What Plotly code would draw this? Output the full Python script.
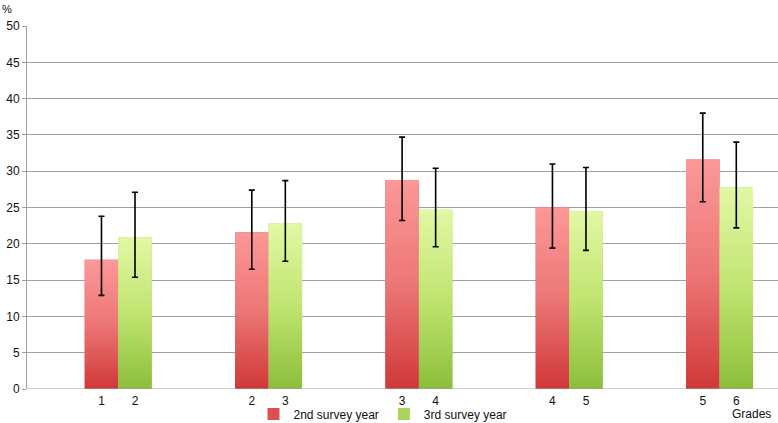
import plotly.graph_objects as go

grades = [1, 2, 3, 4, 5]
series_names = ["2nd survey year", "3rd survey year"]
red_vals = [17.8, 21.6, 28.8, 25.0, 31.6]
red_low = [12.9, 16.5, 23.2, 19.4, 25.8]
red_high = [23.8, 27.4, 34.7, 31.0, 38.0]
green_vals = [20.9, 22.8, 24.7, 24.5, 27.8]
green_low = [15.4, 17.6, 19.6, 19.1, 22.2]
green_high = [27.1, 28.7, 30.4, 30.5, 34.0]
red_ticks = ["1", "2", "3", "4", "5"]
green_ticks = ["2", "3", "4", "5", "6"]

W = 0.223
FONT = "Liberation Sans, Arial, sans-serif"
red_scale = [[0, "rgb(208,56,56)"], [0.5, "rgb(236,118,118)"], [1, "rgb(252,152,152)"]]
green_scale = [[0, "rgb(140,190,58)"], [0.5, "rgb(192,228,112)"], [1, "rgb(226,248,165)"]]

fig = go.Figure()
pos = list(range(len(grades)))

series = [
    (series_names[0], red_vals, red_low, red_high, -W, red_scale, "rgb(222,80,80)"),
    (series_names[1], green_vals, green_low, green_high, 0.0, green_scale, "rgb(170,212,90)"),
]

# base bar traces (data + legend)
for name, vals, lo, hi, off, scale, mid in series:
    fig.add_trace(go.Bar(
        x=pos, y=vals, name=name, offset=off, width=W,
        marker=dict(color=mid, line=dict(width=0)),
        showlegend=True,
    ))

# gradient overlay for each bar
for name, vals, lo, hi, off, scale, mid in series:
    for p, v in zip(pos, vals):
        x0 = p + off
        x1 = x0 + W
        fig.add_trace(go.Scatter(
            x=[x0, x1, x1, x0, x0], y=[0, 0, v, v, 0],
            mode="lines", fill="toself", line=dict(width=0),
            fillgradient=dict(type="vertical", colorscale=scale, start=0, stop=v),
            showlegend=False, hoverinfo="skip",
        ))

# error bars
for name, vals, lo, hi, off, scale, mid in series:
    fig.add_trace(go.Scatter(
        x=[p + off + W / 2 for p in pos], y=vals, mode="markers",
        marker=dict(size=1, opacity=0),
        error_y=dict(type="data", symmetric=False,
                     array=[h - v for h, v in zip(hi, vals)],
                     arrayminus=[v - l for l, v in zip(lo, vals)],
                     color="black", thickness=1.6, width=3),
        showlegend=False, hoverinfo="skip",
    ))

tickvals = []
ticktext = []
for p, a, b in zip(pos, red_ticks, green_ticks):
    tickvals += [p - W / 2, p + W / 2]
    ticktext += [a, b]

fig.update_layout(
    width=778, height=423,
    margin=dict(l=27, r=0, t=26, b=34, autoexpand=False),
    paper_bgcolor="white", plot_bgcolor="white",
    font=dict(family=FONT, size=12, color="#111"),
    barmode="overlay",
    xaxis=dict(range=[-0.607, 4.389], tickvals=tickvals, ticktext=ticktext,
               showgrid=False, zeroline=False, showline=False, automargin=False,
               ticks="outside", ticklen=1, tickcolor="rgba(0,0,0,0)",
               tickfont=dict(size=12, color="#111")),
    yaxis=dict(range=[0, 50], dtick=5, showgrid=True, gridcolor="#a0a0a0", gridwidth=1,
               zeroline=False, showline=True, linecolor="#a0a0a0", linewidth=1,
               ticks="outside", ticklen=4, tickcolor="#a0a0a0", automargin=False,
               tickfont=dict(size=12, color="#111")),
    legend=dict(orientation="h", x=0.474, xanchor="center", y=-0.069, yanchor="middle",
                font=dict(size=12, color="#111"), itemwidth=30, bgcolor="rgba(0,0,0,0)"),
    annotations=[
        dict(text="%", xref="paper", yref="paper", x=-0.036, y=1.048,
             xanchor="left", yanchor="middle", showarrow=False, font=dict(size=11)),
        dict(text="Grades", xref="paper", yref="paper", x=0.965, y=-0.068,
             xanchor="center", yanchor="middle", showarrow=False, font=dict(size=12)),
    ],
    shapes=[dict(type="line", xref="paper", yref="y", x0=0, x1=1, y0=0, y1=0,
                 line=dict(color="#a0a0a0", width=1))],
)

fig.write_html("out.html", config={"displayModeBar": False},
               post_script="document.body.style.margin='0px';document.body.style.padding='0px';")
